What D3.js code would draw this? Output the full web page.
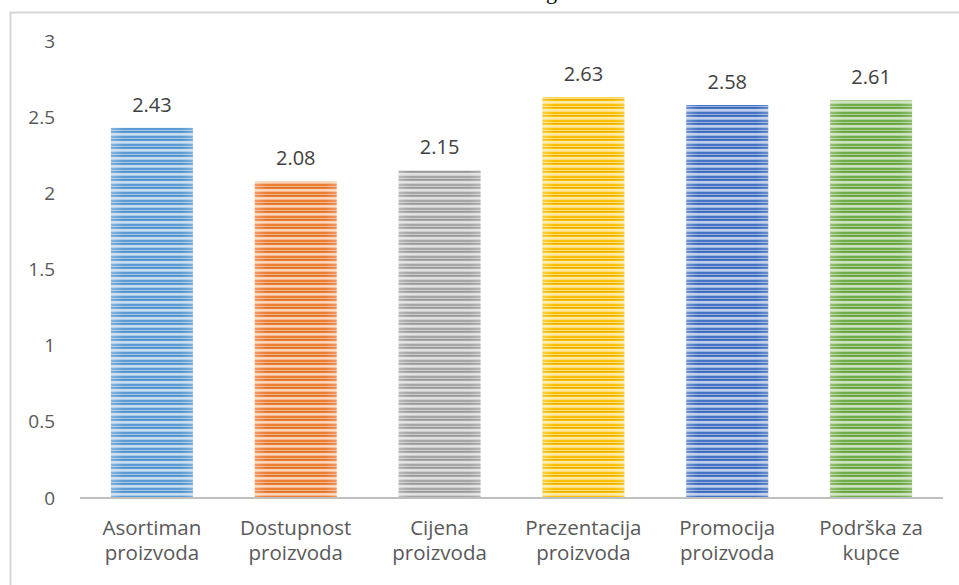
<!DOCTYPE html>
<html>
<head>
<meta charset="utf-8">
<script src="https://cdn.jsdelivr.net/npm/d3@7/dist/d3.min.js"></script>
<style>
  html, body { margin: 0; padding: 0; background: #fff; }
  svg { display: block; }
</style>
</head>
<body>
<svg id="chart" width="959" height="585"></svg>
<script>
// Ocjene pojedinih elemenata (prosjek)
const categories = [
  ["Asortiman", "proizvoda"],
  ["Dostupnost", "proizvoda"],
  ["Cijena", "proizvoda"],
  ["Prezentacija", "proizvoda"],
  ["Promocija", "proizvoda"],
  ["Podrška za", "kupce"]
];
const values = [2.43, 2.08, 2.15, 2.63, 2.58, 2.61];
const yTicks = [0, 0.5, 1, 1.5, 2, 2.5, 3];
const barColors = ["#5B9BD5", "#ED7D31", "#A5A5A5", "#FFC000", "#4472C4", "#70AD47"];

const svg = d3.select("#chart");
const W = 959, H = 585;
const font = "'Open Sans', 'Noto Sans', sans-serif";

// frame of the chart area (only top/left edges fall inside the view)
svg.append("path")
  .attr("d", `M10.5,${H} L10.5,12.5 L${W},12.5`)
  .attr("fill", "none")
  .attr("stroke", "#d6d6d6")
  .attr("stroke-width", 2);

// fragment of the caption above the frame
svg.append("text")
  .attr("x", 546).attr("y", -1)
  .attr("font-family", "'Liberation Serif', serif")
  .attr("font-size", 22)
  .attr("fill", "#000")
  .text("g");

const x = d3.scaleBand()
  .domain(d3.range(categories.length))
  .range([80, 943])
  .paddingInner(0.43)
  .paddingOuter(0.215);

const y = d3.scaleLinear().domain([0, 3]).range([498, 41]);

// striped fills for each bar
const defs = svg.append("defs");
barColors.forEach((c, i) => {
  const base = d3.color(c);
  const light = d3.interpolateRgb(c, "#ffffff")(0.45);
  const lighter = d3.interpolateRgb(c, "#ffffff")(0.65);
  const dark = base.darker(0.25).formatHex();
  const p = defs.append("pattern")
    .attr("id", "stripes" + i)
    .attr("patternUnits", "userSpaceOnUse")
    .attr("width", 8).attr("height", 8);
  p.append("rect").attr("width", 8).attr("height", 8).attr("fill", c);
  p.append("rect").attr("y", 2).attr("width", 8).attr("height", 1).attr("fill", light);
  p.append("rect").attr("y", 3).attr("width", 8).attr("height", 1).attr("fill", dark);
  p.append("rect").attr("y", 5).attr("width", 8).attr("height", 2).attr("fill", lighter);
  p.append("rect").attr("y", 7).attr("width", 8).attr("height", 1).attr("fill", light);

  // soft horizontal shading over the stripes
  const g = defs.append("linearGradient")
    .attr("id", "shade" + i)
    .attr("x1", 0).attr("x2", 1).attr("y1", 0).attr("y2", 0);
  g.append("stop").attr("offset", 0).attr("stop-color", "#fff").attr("stop-opacity", 0.25);
  g.append("stop").attr("offset", 0.15).attr("stop-color", "#fff").attr("stop-opacity", 0);
  g.append("stop").attr("offset", 0.85).attr("stop-color", "#fff").attr("stop-opacity", 0);
  g.append("stop").attr("offset", 1).attr("stop-color", "#fff").attr("stop-opacity", 0.2);
});

const bars = svg.append("g");
bars.selectAll("rect.bar")
  .data(values)
  .join("rect")
  .attr("class", "bar")
  .attr("x", (d, i) => x(i))
  .attr("y", d => y(d))
  .attr("width", x.bandwidth())
  .attr("height", d => y(0) - y(d))
  .attr("fill", (d, i) => `url(#stripes${i})`);
bars.selectAll("rect.shade")
  .data(values)
  .join("rect")
  .attr("class", "shade")
  .attr("x", (d, i) => x(i))
  .attr("y", d => y(d))
  .attr("width", x.bandwidth())
  .attr("height", d => y(0) - y(d))
  .attr("fill", (d, i) => `url(#shade${i})`);

// value labels
svg.append("g").selectAll("text")
  .data(values)
  .join("text")
  .attr("x", (d, i) => x(i) + x.bandwidth() / 2)
  .attr("y", d => y(d) - 16)
  .attr("text-anchor", "middle")
  .attr("font-family", font)
  .attr("font-size", 20)
  .attr("fill", "#404040")
  .text(d => d.toFixed(2));

// y axis tick labels (no axis line)
const yAxis = d3.axisLeft(y).tickValues(yTicks).tickSize(0).tickPadding(0)
  .tickFormat(d => String(d));
const yg = svg.append("g").attr("transform", "translate(55,0)").call(yAxis);
yg.select(".domain").remove();
yg.selectAll("text")
  .attr("font-family", font)
  .attr("font-size", 19)
  .attr("fill", "#595959");

// baseline
svg.append("line")
  .attr("x1", 80).attr("x2", 943)
  .attr("y1", y(0)).attr("y2", y(0))
  .attr("stroke", "#bfbfbf")
  .attr("stroke-width", 2);

// category labels
const cat = svg.append("g").selectAll("text")
  .data(categories)
  .join("text")
  .attr("text-anchor", "middle")
  .attr("font-family", font)
  .attr("font-size", 20.5)
  .attr("fill", "#595959");
cat.each(function(d, i) {
  const t = d3.select(this);
  const cx = x(i) + x.bandwidth() / 2;
  d.forEach((line, k) => {
    t.append("tspan").attr("x", cx).attr("y", 535 + k * 24.5).text(line);
  });
});
</script>
</body>
</html>
